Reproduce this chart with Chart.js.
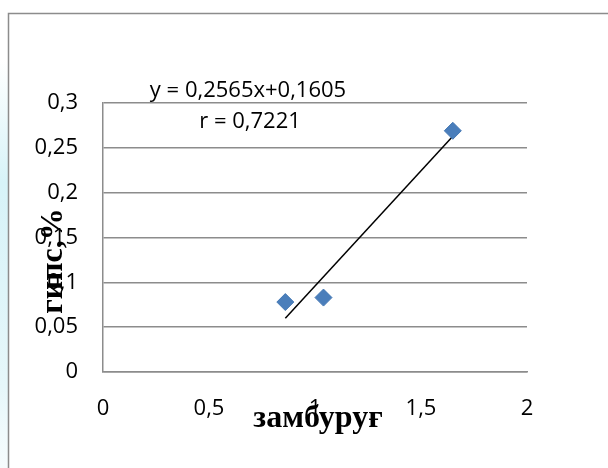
<!DOCTYPE html>
<html>
<head>
<meta charset="utf-8">
<script src="https://cdn.jsdelivr.net/npm/chart.js@4.4.0/dist/chart.umd.min.js"></script>
<style>
  body { margin: 0; background: #fff; }
  canvas { display: block; }
</style>
</head>
<body>
<canvas id="chart" width="608" height="468"></canvas>
<script>
// measured points (x = замбуруғ, y = гипс %)
const xValues = [0.86, 1.04, 1.65];
const yValues = [0.078, 0.083, 0.269];

// trend line ends
const trendX = [0.86, 1.65];
const trendY = [0.06, 0.263];

const xTickLabels = ["0", "0,5", "1", "1,5", "2"];
const yTickLabels = ["0", "0,05", "0,1", "0,15", "0,2", "0,25", "0,3"];

const equationText = "y = 0,2565x+0,1605";
const rText = "r = 0,7221";
const xTitle = "замбуруғ";
const yTitle = "гипс,%";

const frame = {
  id: "frame",
  beforeDraw(chart) {
    const ctx = chart.ctx;
    ctx.save();
    ctx.fillStyle = "#fff";
    ctx.fillRect(0, 0, chart.width, chart.height);
    // pale strip on the left edge
    const g = ctx.createLinearGradient(0, 60, 0, 468);
    g.addColorStop(0, "rgba(215,243,248,0)");
    g.addColorStop(0.3, "rgba(215,243,248,1)");
    g.addColorStop(0.8, "rgba(230,247,250,1)");
    g.addColorStop(1, "rgba(240,250,252,0.6)");
    ctx.fillStyle = g;
    ctx.fillRect(0, 60, 8, 408);
    ctx.strokeStyle = "#8c8c8c";
    ctx.lineWidth = 1.5;
    ctx.beginPath();
    ctx.moveTo(8.5, 468);
    ctx.lineTo(8.5, 13.5);
    ctx.lineTo(608, 13.5);
    ctx.stroke();
    ctx.restore();
  },
  afterDraw(chart) {
    const ctx = chart.ctx;
    ctx.save();
    ctx.fillStyle = "#000";
    ctx.textAlign = "center";
    ctx.textBaseline = "alphabetic";
    ctx.font = "22px 'Open Sans'";
    ctx.fillText(equationText, 248, 97);
    ctx.fillText(rText, 250, 128);

    ctx.font = "bold 32px 'Liberation Serif', 'DejaVu Serif'";
    ctx.fillText(xTitle, 318, 427);

    ctx.translate(62, 261);
    ctx.rotate(-Math.PI / 2);
    ctx.fillText(yTitle, 0, 0);
    ctx.restore();
  }
};

new Chart(document.getElementById("chart"), {
  type: "scatter",
  data: {
    datasets: [
      {
        label: "trend",
        data: trendX.map((x, i) => ({ x: x, y: trendY[i] })),
        showLine: true,
        borderColor: "#000",
        borderWidth: 1.5,
        pointRadius: 0,
        order: 2
      },
      {
        label: "points",
        data: xValues.map((x, i) => ({ x: x, y: yValues[i] })),
        pointStyle: "rectRot",
        pointRadius: 8.5,
        pointBackgroundColor: "#4a7ebb",
        pointBorderColor: "#4579b5",
        pointBorderWidth: 1,
        order: 1
      }
    ]
  },
  options: {
    responsive: false,
    animation: false,
    layout: { padding: { top: 103, right: 81, left: 0, bottom: 0 } },
    plugins: {
      legend: { display: false },
      tooltip: { enabled: false }
    },
    scales: {
      x: {
        type: "linear",
        min: 0,
        max: 2,
        afterFit(s) { s.height = 96; },
        afterBuildTicks(s) { s.ticks = xTickLabels.map((t, i) => ({ value: i * 0.5 })); },
        grid: { display: false, drawTicks: false },
        border: { color: "#8c8c8c", width: 1.5 },
        ticks: {
          padding: 24,
          color: "#000",
          font: { family: "'Open Sans'", size: 22 },
          callback: (v, i) => xTickLabels[i]
        }
      },
      y: {
        type: "linear",
        min: 0,
        max: 0.3,
        afterFit(s) { s.width = 103; },
        afterBuildTicks(s) { s.ticks = yTickLabels.map((t, i) => ({ value: i * 0.05 })); },
        grid: { color: "#8c8c8c", lineWidth: 1.5, drawTicks: false },
        border: { color: "#8c8c8c", width: 1.5 },
        ticks: {
          padding: 25,
          color: "#000",
          font: { family: "'Open Sans'", size: 22 },
          callback: (v, i) => yTickLabels[i]
        }
      }
    }
  },
  plugins: [frame]
});
</script>
</body>
</html>
